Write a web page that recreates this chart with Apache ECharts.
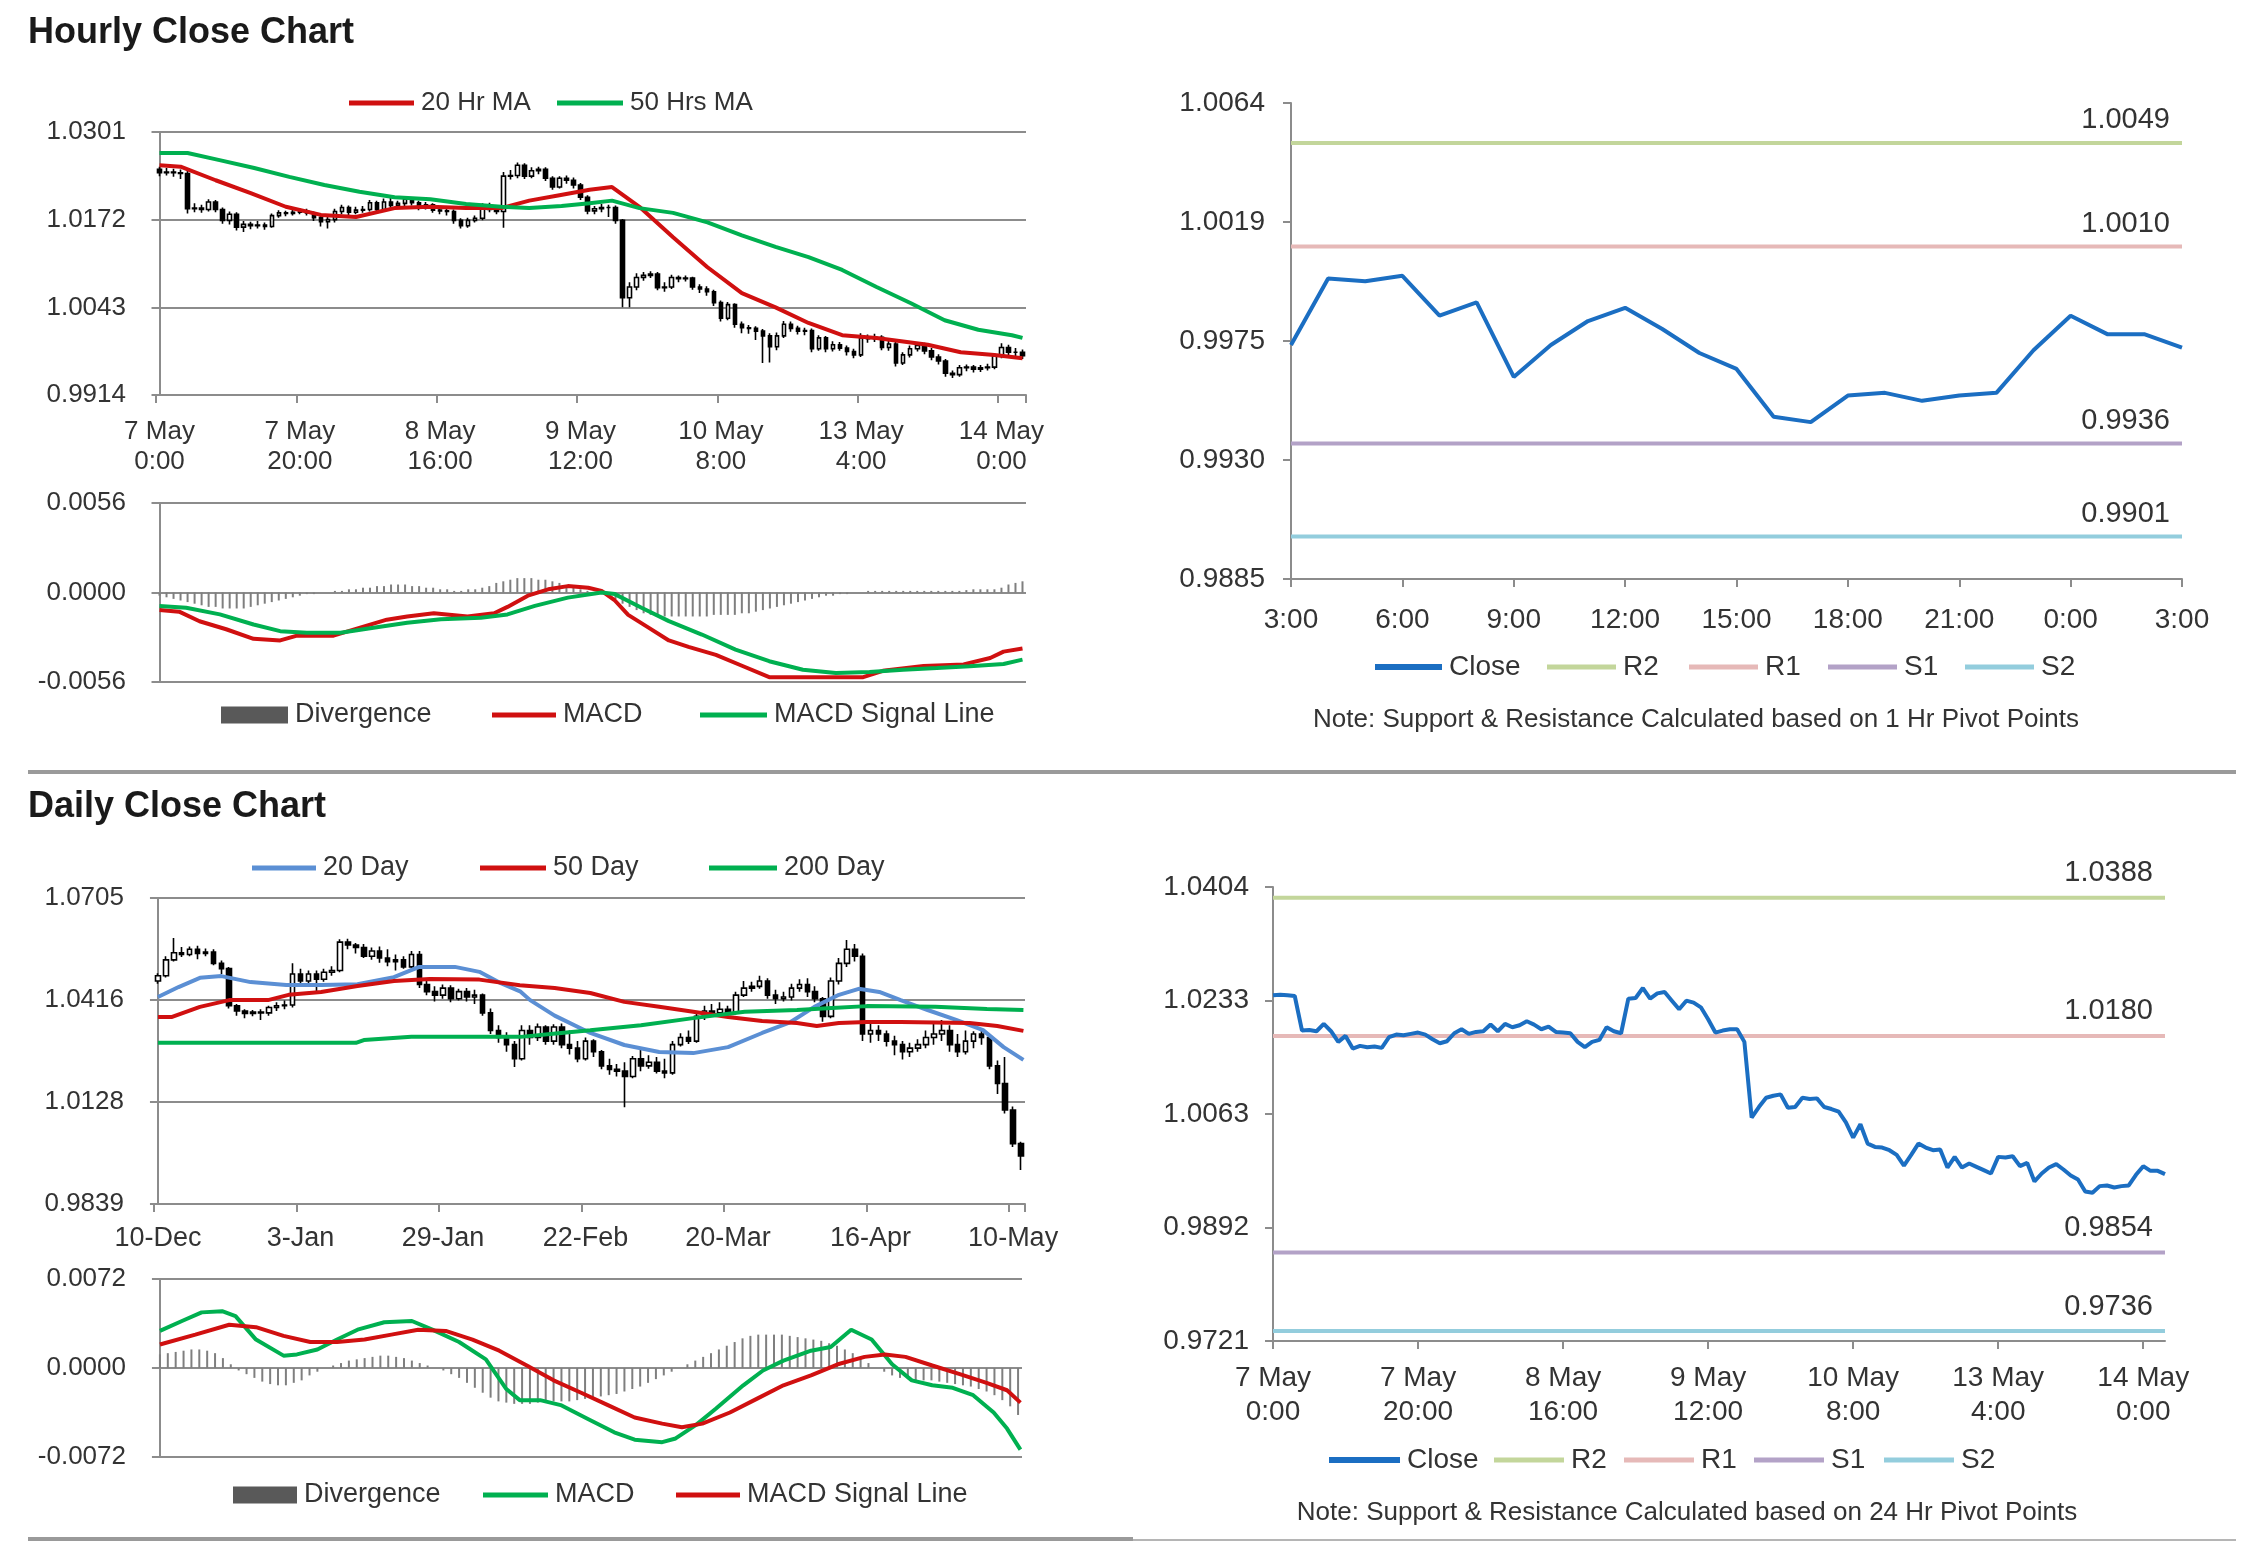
<!DOCTYPE html>
<html><head><meta charset="utf-8">
<script src="https://cdn.jsdelivr.net/npm/echarts@6/dist/echarts.min.js"></script>
<style>html,body{margin:0;padding:0;background:#fff}#c{width:2241px;height:1543px}</style>
</head><body><div id="c"></div>
<script>
// ================= DATA =================
// Hourly: 7 May 0:00 .. 14 May 3:00 (124 hourly bars)
const hourTickLabels = ['7 May\n0:00','7 May\n20:00','8 May\n16:00','9 May\n12:00','10 May\n8:00','13 May\n4:00','14 May\n0:00'];
const hourOpen = [1.0246,1.0241,1.0242,1.0241,1.0240,1.0188,1.0189,1.0187,1.0198,1.0187,
 1.0171,1.0180,1.0161,1.0165,1.0163,1.0164,1.0162,1.0178,1.0182,1.0181,
 1.0183,1.0185,1.0182,1.0175,1.0169,1.0172,1.0184,1.0190,1.0183,1.0186,
 1.0187,1.0197,1.0187,1.0198,1.0193,1.0196,1.0202,1.0197,1.0190,1.0194,
 1.0186,1.0185,1.0184,1.0171,1.0163,1.0171,1.0174,1.0193,1.0187,1.0184,
 1.0236,1.0237,1.0252,1.0236,1.0244,1.0246,1.0233,1.0220,1.0233,1.0230,
 1.0223,1.0205,1.0185,1.0188,1.0190,1.0190,1.0171,1.0057,1.0073,1.0087,
 1.0090,1.0092,1.0072,1.0073,1.0087,1.0085,1.0086,1.0073,1.0070,1.0066,
 1.0050,1.0027,1.0047,1.0018,1.0013,1.0012,1.0008,1.0001,0.9985,1.0001,
 1.0018,1.0012,1.0008,1.0009,0.9982,0.9998,0.9982,0.9988,0.9983,0.9978,
 0.9973,0.9998,0.9997,0.9999,0.9984,0.9989,0.9961,0.9973,0.9982,0.9987,
 0.9979,0.9970,0.9964,0.9946,0.9944,0.9954,0.9955,0.9952,0.9954,0.9955,
 0.9971,0.9984,0.9977,0.9977];
const hourClose = [1.0241,1.0242,1.0241,1.0240,1.0188,1.0189,1.0187,1.0198,1.0187,1.0171,
 1.0180,1.0161,1.0165,1.0163,1.0164,1.0162,1.0178,1.0182,1.0181,1.0183,
 1.0185,1.0182,1.0175,1.0169,1.0172,1.0184,1.0190,1.0183,1.0186,1.0187,
 1.0197,1.0187,1.0198,1.0193,1.0196,1.0202,1.0197,1.0190,1.0194,1.0186,
 1.0185,1.0184,1.0171,1.0163,1.0171,1.0174,1.0193,1.0187,1.0184,1.0236,
 1.0237,1.0252,1.0236,1.0244,1.0246,1.0233,1.0220,1.0233,1.0230,1.0223,
 1.0205,1.0185,1.0188,1.0190,1.0190,1.0171,1.0057,1.0073,1.0087,1.0090,
 1.0092,1.0072,1.0073,1.0087,1.0085,1.0086,1.0073,1.0070,1.0066,1.0050,
 1.0027,1.0047,1.0018,1.0013,1.0012,1.0008,1.0001,0.9985,1.0001,1.0018,
 1.0012,1.0008,1.0009,0.9982,0.9998,0.9982,0.9988,0.9983,0.9978,0.9973,
 0.9998,0.9997,0.9999,0.9984,0.9989,0.9961,0.9973,0.9982,0.9987,0.9979,
 0.9970,0.9964,0.9946,0.9944,0.9954,0.9955,0.9952,0.9954,0.9955,0.9971,
 0.9984,0.9977,0.9977,0.9972];
const hourLow = [1.0236,1.0237,1.0235,1.0232,1.0181,1.0183,1.0182,1.0184,1.0183,1.0166,
 1.0165,1.0156,1.0154,1.0158,1.0159,1.0157,1.0160,1.0175,1.0177,1.0178,
 1.0180,1.0178,1.0170,1.0162,1.0159,1.0168,1.0180,1.0179,1.0180,1.0182,
 1.0184,1.0183,1.0185,1.0189,1.0190,1.0192,1.0193,1.0186,1.0187,1.0182,
 1.0180,1.0178,1.0166,1.0159,1.0160,1.0168,1.0171,1.0183,1.0180,1.0160,
 1.0231,1.0233,1.0232,1.0233,1.0239,1.0229,1.0216,1.0218,1.0225,1.0218,
 1.0201,1.0180,1.0180,1.0183,1.0176,1.0166,1.0043,1.0043,1.0068,1.0082,
 1.0086,1.0068,1.0066,1.0070,1.0080,1.0081,1.0069,1.0064,1.0060,1.0045,
 1.0022,1.0024,1.0013,1.0005,1.0004,0.9995,0.9961,0.9962,0.9980,0.9998,
 1.0007,1.0003,1.0002,0.9977,0.9979,0.9977,0.9978,0.9979,0.9972,0.9968,
 0.9970,0.9991,0.9992,0.9980,0.9979,0.9956,0.9958,0.9969,0.9978,0.9974,
 0.9965,0.9959,0.9941,0.9939,0.9941,0.9949,0.9947,0.9948,0.9950,0.9952,
 0.9968,0.9972,0.9971,0.9967];
const hourHigh = [1.0250,1.0248,1.0247,1.0246,1.0244,1.0196,1.0194,1.0202,1.0201,1.0190,
 1.0184,1.0183,1.0170,1.0169,1.0170,1.0168,1.0181,1.0186,1.0185,1.0187,
 1.0189,1.0188,1.0184,1.0178,1.0176,1.0188,1.0194,1.0193,1.0191,1.0192,
 1.0201,1.0200,1.0203,1.0208,1.0200,1.0205,1.0204,1.0200,1.0198,1.0196,
 1.0190,1.0189,1.0187,1.0174,1.0175,1.0178,1.0196,1.0197,1.0190,1.0242,
 1.0245,1.0256,1.0255,1.0249,1.0250,1.0249,1.0236,1.0236,1.0237,1.0234,
 1.0226,1.0208,1.0192,1.0195,1.0194,1.0193,1.0173,1.0080,1.0093,1.0095,
 1.0096,1.0095,1.0080,1.0091,1.0090,1.0090,1.0088,1.0077,1.0074,1.0069,
 1.0053,1.0051,1.0049,1.0022,1.0017,1.0015,1.0011,1.0005,1.0006,1.0023,
 1.0022,1.0016,1.0013,1.0012,1.0002,1.0001,0.9993,0.9992,0.9987,0.9982,
 1.0005,1.0003,1.0004,1.0002,0.9994,0.9992,0.9977,0.9987,0.9992,0.9991,
 0.9983,0.9974,0.9967,0.9950,0.9958,0.9959,0.9958,0.9958,0.9960,0.9975,
 0.9990,0.9988,0.9983,0.9981];
// moving averages: [bar index, value]
const hourMA20 = [[0,1.0252],[3,1.0250],[8,1.0230],[13,1.0211],[18,1.0191],[23,1.0179],[28,1.0176],[33.5,1.0189],[38.6,1.0191],[43.7,1.0189],[48.7,1.0189],[52.7,1.0200],[57,1.0208],[61.3,1.0216],[64.5,1.0220],[68.4,1.0191],[73.2,1.0146],[78.1,1.0102],[83,1.0064],[87.8,1.0043],[92.5,1.0020],[97.3,1.0002],[102.2,0.9998],[109.5,0.9988],[114.2,0.9977],[119,0.9973],[123,0.9968]];
const hourMA50 = [[0,1.0270],[4,1.0270],[8.4,1.0260],[13.5,1.0248],[18.5,1.0235],[23.5,1.0223],[28.5,1.0213],[33.5,1.0205],[38.6,1.0202],[43.7,1.0195],[48.7,1.0191],[52.7,1.0189],[57.3,1.0192],[61.3,1.0196],[64.5,1.0200],[68.4,1.0189],[73.2,1.0182],[78.1,1.0168],[83,1.0149],[87.8,1.0132],[92.5,1.0117],[97.3,1.0098],[102.2,1.0073],[107.1,1.0049],[111.9,1.0024],[116.7,1.0010],[121.5,1.0002],[123,0.9998]];
const hourMACD = [[0,-0.0011],[2.8,-0.0012],[5.7,-0.0018],[9.5,-0.0023],[13.4,-0.0029],[17.2,-0.0030],[19.6,-0.0027],[24.8,-0.0027],[28.6,-0.0022],[32.4,-0.0017],[35.3,-0.0015],[39.1,-0.0013],[43.9,-0.0015],[47.7,-0.0013],[49.6,-0.0009],[52.5,-0.0002],[55.4,0.0002],[58.2,0.0004],[61.1,0.0003],[63,0.0001],[64.9,-0.0005],[66.8,-0.0014],[69.7,-0.0022],[72.6,-0.0030],[75.4,-0.0034],[79.3,-0.0039],[83.1,-0.0046],[86.9,-0.0053],[91.7,-0.0053],[96.4,-0.0053],[100.3,-0.0053],[103.1,-0.0049],[108.9,-0.0046],[114.6,-0.0045],[118.4,-0.0041],[120.3,-0.0037],[123,-0.0035]];
const hourSignal = [[0,-0.00084],[3.8,-0.00095],[8.6,-0.00137],[13.4,-0.0020],[17.2,-0.00242],[21,-0.00252],[25.8,-0.00252],[30.5,-0.0022],[35.3,-0.00189],[40.1,-0.00168],[45.8,-0.00158],[49.6,-0.00137],[53.5,-0.00084],[58.2,-0.00032],[63,0],[64.9,-0.0001],[68.7,-0.00095],[72.6,-0.00179],[77.3,-0.00263],[82.1,-0.00357],[86.9,-0.0043],[91.7,-0.00483],[96.4,-0.00504],[101.2,-0.00498],[106,-0.00483],[110.8,-0.00473],[115.5,-0.00462],[120.3,-0.00447],[123,-0.0042]];
const hourDivergence = [-0.0002,-0.0003,-0.0004,-0.0005,-0.0006,-0.0007,-0.0008,-0.0009,-0.0009,
 -0.0010,-0.0010,-0.0010,-0.0010,-0.0009,-0.0008,-0.0007,-0.0006,
 -0.0005,-0.0004,-0.0003,-0.0002,-0.0001,-0.0001,0,0,
 0.0001,0.0001,0.0002,0.0002,0.0003,0.0003,0.0004,
 0.0004,0.0005,0.0005,0.0005,0.0004,0.0004,0.0003,
 0.0003,0.0002,0.0002,0.0001,0.0001,0.0002,0.0002,
 0.0003,0.0004,0.0006,0.0007,0.0008,0.0009,0.0009,
 0.0009,0.0008,0.0008,0.0007,0.0006,0.0004,0.0003,
 0.0002,0.0001,0,-0.0001,-0.0003,
 -0.0004,-0.0007,-0.0009,-0.0011,-0.0013,-0.0014,-0.0015,-0.0015,-0.0015,-0.0015,-0.0015,-0.0015,-0.0015,-0.0015,-0.0014,-0.0014,-0.0014,-0.0014,-0.0013,-0.0013,-0.0012,-0.0011,-0.0010,-0.0009,-0.0008,-0.0007,-0.0006,-0.0005,-0.0004,-0.0003,-0.0002,-0.0002,-0.0001,-0.0001,0,0,
 0.0001,0.0001,0.0001,0.0001,0.0001,0.0001,0.0001,0.0001,0.0001,0.0001,0.0001,0.0001,0.0001,0.0001,0.00015,0.0002,0.0002,0.0002,0.0002,0.0003,0.0005,0.0006,0.0007];
const hourPriceTicks = [0.9914, 1.0043, 1.0172, 1.0301];
const hourMacdTicks = [-0.0056, 0, 0.0056];

// 1 Hr pivot chart: 13 May 3:00 .. 14 May 3:00
const pivotHourLabels = ['3:00','6:00','9:00','12:00','15:00','18:00','21:00','0:00','3:00'];
const pivotHourClose = [0.9973,0.9998,0.9997,0.9999,0.9984,0.9989,0.9961,0.9973,0.9982,0.9987,0.9979,0.9970,0.9964,0.9946,0.9944,0.9954,0.9955,0.9952,0.9954,0.9955,0.9971,0.9984,0.9977,0.9977,0.9972];
const pivotNames = ['R2','R1','S1','S2'];
const pivotHourLevels = [1.0049, 1.0010, 0.9936, 0.9901];
const pivotHourTicks = [0.9885, 0.9930, 0.9975, 1.0019, 1.0064];

// 24 Hr pivot chart (hourly closes, same period as the hourly candles)
const pivotDayLevels = [1.0388, 1.0180, 0.9854, 0.9736];
const pivotDayTicks = [0.9721, 0.9892, 1.0063, 1.0233, 1.0404];

// Daily: 10-Dec .. 13-May (110 bars)
const dayTickLabels = ['10-Dec','3-Jan','29-Jan','22-Feb','20-Mar','16-Apr','10-May'];
const dayOpen = [1.0470,1.0485,1.0530,1.0550,1.0545,1.0560,1.0548,1.0552,1.0520,1.0505,
 1.0400,1.0385,1.0378,1.0382,1.0380,1.0395,1.0400,1.0402,1.0490,1.0470,
 1.0490,1.0475,1.0495,1.0500,1.0580,1.0572,1.0565,1.0540,1.0555,1.0535,
 1.0525,1.0530,1.0510,1.0545,1.0460,1.0440,1.0430,1.0450,1.0420,1.0440,
 1.0425,1.0430,1.0380,1.0330,1.0310,1.0290,1.0250,1.0330,1.0310,1.0340,
 1.0300,1.0340,1.0290,1.0280,1.0250,1.0300,1.0270,1.0230,1.0220,1.0215,
 1.0200,1.0250,1.0230,1.0240,1.0215,1.0210,1.0290,1.0310,1.0300,1.0370,
 1.0385,1.0380,1.0390,1.0380,1.0430,1.0450,1.0455,1.0470,1.0430,1.0420,
 1.0425,1.0450,1.0460,1.0440,1.0420,1.0370,1.0470,1.0520,1.0560,1.0540,
 1.0320,1.0330,1.0320,1.0300,1.0290,1.0270,1.0280,1.0290,1.0310,1.0320,
 1.0330,1.0290,1.0270,1.0300,1.0320,1.0310,1.0230,1.0180,1.0105,1.0010];
const dayClose = [1.0485,1.0530,1.0550,1.0545,1.0560,1.0548,1.0552,1.0520,1.0505,1.0400,
 1.0385,1.0378,1.0382,1.0380,1.0395,1.0400,1.0402,1.0490,1.0470,1.0490,
 1.0475,1.0495,1.0500,1.0580,1.0572,1.0565,1.0540,1.0555,1.0535,1.0525,
 1.0530,1.0510,1.0545,1.0460,1.0440,1.0430,1.0450,1.0420,1.0440,1.0425,
 1.0430,1.0380,1.0330,1.0310,1.0290,1.0250,1.0330,1.0310,1.0340,1.0300,
 1.0340,1.0290,1.0280,1.0250,1.0300,1.0270,1.0230,1.0220,1.0215,1.0200,
 1.0250,1.0230,1.0240,1.0215,1.0210,1.0290,1.0310,1.0300,1.0370,1.0385,
 1.0380,1.0390,1.0380,1.0430,1.0450,1.0455,1.0470,1.0430,1.0420,1.0425,
 1.0450,1.0460,1.0440,1.0420,1.0370,1.0470,1.0520,1.0560,1.0540,1.0320,
 1.0330,1.0320,1.0300,1.0290,1.0270,1.0280,1.0290,1.0310,1.0320,1.0330,
 1.0290,1.0270,1.0300,1.0320,1.0310,1.0230,1.0180,1.0105,1.0010,0.9975];
const dayLow = [1.0462,1.0480,1.0525,1.0538,1.0540,1.0532,1.0540,1.0515,1.0490,1.0392,
 1.0372,1.0365,1.0370,1.0360,1.0372,1.0385,1.0390,1.0395,1.0455,1.0462,
 1.0440,1.0468,1.0485,1.0495,1.0560,1.0548,1.0535,1.0530,1.0522,1.0512,
 1.0500,1.0505,1.0505,1.0450,1.0430,1.0412,1.0420,1.0410,1.0415,1.0412,
 1.0405,1.0372,1.0320,1.0295,1.0270,1.0227,1.0245,1.0290,1.0300,1.0290,
 1.0290,1.0280,1.0262,1.0240,1.0245,1.0255,1.0220,1.0205,1.0200,1.0113,
 1.0195,1.0215,1.0222,1.0208,1.0195,1.0205,1.0285,1.0292,1.0295,1.0360,
 1.0368,1.0370,1.0368,1.0375,1.0425,1.0440,1.0448,1.0420,1.0405,1.0412,
 1.0415,1.0440,1.0425,1.0410,1.0355,1.0365,1.0460,1.0510,1.0525,1.0300,
 1.0295,1.0300,1.0285,1.0260,1.0248,1.0255,1.0270,1.0280,1.0290,1.0300,
 1.0270,1.0255,1.0262,1.0280,1.0290,1.0220,1.0150,1.0095,1.0000,0.9935];
const dayHigh = [1.0492,1.0540,1.0592,1.0566,1.0568,1.0570,1.0562,1.0560,1.0528,1.0510,
 1.0405,1.0390,1.0388,1.0390,1.0400,1.0410,1.0415,1.0520,1.0505,1.0500,
 1.0500,1.0505,1.0512,1.0588,1.0590,1.0578,1.0575,1.0565,1.0568,1.0560,
 1.0545,1.0540,1.0555,1.0555,1.0470,1.0455,1.0460,1.0458,1.0448,1.0450,
 1.0445,1.0435,1.0392,1.0345,1.0325,1.0300,1.0345,1.0345,1.0350,1.0345,
 1.0348,1.0350,1.0330,1.0300,1.0310,1.0305,1.0275,1.0250,1.0235,1.0240,
 1.0258,1.0275,1.0260,1.0255,1.0250,1.0300,1.0322,1.0330,1.0385,1.0400,
 1.0405,1.0410,1.0400,1.0440,1.0470,1.0468,1.0485,1.0478,1.0445,1.0440,
 1.0462,1.0475,1.0478,1.0455,1.0425,1.0480,1.0535,1.0586,1.0575,1.0548,
 1.0360,1.0345,1.0330,1.0315,1.0300,1.0295,1.0305,1.0330,1.0350,1.0360,
 1.0345,1.0320,1.0330,1.0328,1.0330,1.0318,1.0245,1.0255,1.0115,1.0015];
const dayMA20 = [[0,1.0425],[2.6,1.0453],[5.3,1.0479],[8,1.0484],[11.7,1.0467],[16.2,1.0459],[20.6,1.0459],[25.2,1.0461],[29.8,1.0481],[33,1.0510],[37.5,1.0510],[40.6,1.0496],[43.3,1.0464],[45.8,1.0440],[47,1.0416],[50.1,1.0372],[54.6,1.0323],[58.9,1.0289],[63.3,1.0269],[67.6,1.0266],[72,1.0283],[76.3,1.0323],[79.9,1.0354],[82.9,1.0397],[86,1.0431],[88.5,1.0448],[91.1,1.0439],[93.8,1.0416],[97.2,1.0388],[100.8,1.0360],[104.2,1.0331],[106.8,1.0283],[109.3,1.0247]];
const dayMA50 = [[0,1.0368],[1.7,1.0368],[5.3,1.0397],[9,1.0416],[13.9,1.0416],[16.5,1.0431],[20.6,1.0439],[25.2,1.0456],[29.8,1.0470],[34.3,1.0476],[40.6,1.0474],[45.7,1.0458],[50.1,1.0450],[54.6,1.0436],[58.9,1.0411],[63.3,1.0397],[67.6,1.0383],[72,1.0368],[76.3,1.0357],[80.7,1.0351],[83.2,1.0343],[86,1.0351],[89.5,1.0354],[93.8,1.0354],[98.2,1.0353],[102.5,1.0351],[106,1.0343],[109.3,1.0329]];
const dayMA200 = [[0,1.0295],[25,1.0295],[26,1.0303],[32,1.0312],[41,1.0312],[45.8,1.0312],[50.9,1.0323],[54.6,1.0331],[61,1.0345],[67.6,1.0365],[74.1,1.0383],[80.7,1.0388],[85.1,1.0394],[89.5,1.0399],[98.2,1.0397],[104.7,1.0391],[109.3,1.0388]];
const dayMACD = [[0,0.0030],[2.8,0.0038],[5.3,0.0045],[7.9,0.0046],[9.6,0.0042],[12.2,0.0023],[15.7,0.0010],[17.4,0.0011],[20,0.0015],[22.5,0.0023],[25.1,0.0031],[28.5,0.0037],[32,0.0038],[34.6,0.0031],[38,0.0021],[41.4,0.0007],[44,-0.0017],[45.7,-0.0026],[48.3,-0.0026],[50.9,-0.0030],[54.3,-0.0041],[57.7,-0.0052],[60.3,-0.0058],[63.8,-0.0060],[65.5,-0.0057],[68.1,-0.0046],[70.6,-0.0033],[74.1,-0.0014],[76.6,-0.0002],[79.2,0.0006],[82.7,0.0014],[85.2,0.0017],[87.8,0.0031],[90.4,0.0023],[93,0.0003],[95.5,-0.0010],[98.1,-0.0014],[100.7,-0.0016],[103.3,-0.0022],[105.9,-0.0036],[107.6,-0.0049],[109.3,-0.0066]];
const daySignal = [[0,0.0019],[4.5,0.0027],[8.8,0.0035],[12.2,0.0033],[15.7,0.0026],[19.1,0.0021],[22.5,0.0021],[26,0.0023],[29.4,0.0027],[32.8,0.0031],[36.3,0.0030],[39.7,0.0023],[43.1,0.0014],[46.6,0.0002],[50,-0.0010],[53.5,-0.0020],[56.9,-0.0030],[60.3,-0.0040],[63.8,-0.0045],[66.3,-0.0048],[68.9,-0.0045],[72.4,-0.0036],[75.8,-0.0025],[79.2,-0.0014],[82.7,-0.0006],[86.1,0.0003],[89.5,0.0009],[92.1,0.0011],[94.7,0.0009],[98.1,0.0002],[101.6,-0.0005],[105,-0.0012],[107.6,-0.0018],[109.3,-0.0028]];
const dayDivergence = [0.0011,0.0012,0.0013,0.0014,0.0015,0.0015,0.0014,0.0012,0.0008,
 0.0003,-0.0002,-0.0005,
 -0.0008,-0.0011,-0.0013,-0.0014,-0.0014,-0.0012,-0.0010,-0.0006,-0.0003,
 0,0.0002,0.0004,
 0.0006,0.0007,0.0008,0.0009,0.0010,0.0010,0.0009,0.0008,0.0006,0.0004,0.0002,
 0,-0.0002,-0.0005,
 -0.0008,-0.0012,-0.0016,-0.0020,-0.0024,-0.0027,-0.0028,-0.0029,-0.0029,-0.0029,-0.0028,
 -0.0028,-0.0027,-0.0027,-0.0027,-0.0026,-0.0025,-0.0024,-0.0023,-0.0022,-0.0021,-0.0019,-0.0017,-0.0015,-0.0012,
 -0.0009,-0.0006,-0.0003,0,
 0.0003,0.0006,0.0009,0.0012,0.0015,0.0018,0.0021,0.0024,0.0026,0.0027,0.0027,0.0027,0.0027,0.0026,
 0.0025,0.0024,0.0023,0.0022,0.0020,0.0018,0.0015,0.0012,
 0.0008,0.0004,0,-0.0003,
 -0.0006,-0.0008,-0.0009,-0.0010,-0.0010,-0.0010,-0.0011,-0.0012,-0.0013,-0.0014,-0.0015,-0.0017,-0.0019,-0.0022,-0.0026,-0.0031,-0.0038];
const dayPriceTicks = [0.9839, 1.0128, 1.0416, 1.0705];
const dayMacdTicks = [-0.0072, 0, 0.0072];

// ================= STYLE =================
const FONT = "'Liberation Sans', Arial, Helvetica, sans-serif";
const GC = '#8c8c8c';
const TXT = '#333333';
const RED = '#d01010', GREEN = '#00b050', BLUE20 = '#5b8fd4', CLOSE = '#1b6ec2', BAR = '#7f7f7f';
const PIVOT_COLORS = ['#c3d69b', '#e6b9b8', '#b3a2c7', '#93cddd'];

function fmt4(v) { return (v + (v >= 0 ? 1e-9 : -1e-9)).toFixed(4); }
function idx(n) { return Array.from({length: n}, (_, i) => String(i)); }
function yAx(grid, ticks, fs, margin, split) {
  const n = ticks.length;
  return {
    type: 'value', gridIndex: grid, min: ticks[0], max: ticks[n - 1],
    interval: +((ticks[n - 1] - ticks[0]) / (n - 1)).toFixed(8),
    axisLine: {show: true, lineStyle: {color: GC, width: 2}},
    axisTick: {show: true, length: 8, lineStyle: {color: GC, width: 2}},
    splitLine: {show: split, lineStyle: {color: GC, width: 2}},
    axisLabel: {formatter: fmt4, fontSize: fs, color: TXT, fontFamily: FONT, margin: margin}
  };
}
function catAx(grid, n, gap, every, labels, fs, lh, margin) {
  return {
    type: 'category', gridIndex: grid, data: idx(n), boundaryGap: gap,
    axisLine: {show: true, onZero: false, lineStyle: {color: GC, width: 2}},
    axisTick: {show: true, interval: every - 1, length: 8, lineStyle: {color: GC, width: 2}},
    splitLine: {show: false},
    axisLabel: {interval: every - 1, formatter: (v, i) => labels[Math.round(i / every)] || '',
      fontSize: fs, lineHeight: lh, color: TXT, fontFamily: FONT, margin: margin}
  };
}
function hiddenCat(grid, n) { return {type: 'category', gridIndex: grid, data: idx(n), boundaryGap: true, show: false}; }
function hiddenVal(grid, n) { return {type: 'value', gridIndex: grid, min: -0.5, max: n - 0.5, show: false}; }
function line(name, xi, yi, data, color, width) {
  return {name, type: 'line', xAxisIndex: xi, yAxisIndex: yi, data, color, symbol: 'none', showSymbol: false,
    lineStyle: {color, width: width || 4}, silent: true, z: 3};
}
function pivotLine(name, xi, yi, last, v, color, fs, off) {
  return {name, type: 'line', xAxisIndex: xi, yAxisIndex: yi, color, symbol: 'circle', symbolSize: 0, showSymbol: true,
    lineStyle: {color, width: 4}, itemStyle: {color}, silent: true, z: 2,
    data: [[0, v], {value: [last, v], label: {show: true, position: 'top', align: 'right', distance: off,
      offset: [-12, 0], formatter: () => fmt4(v), fontSize: fs, color: TXT, fontFamily: FONT}}]};
}
function candles(xi, yi, o, c, l, h, bw) {
  return {type: 'candlestick', xAxisIndex: xi, yAxisIndex: yi, barWidth: bw, silent: true,
    data: o.map((v, i) => [v, c[i], l[i], h[i]]),
    itemStyle: {color: '#ffffff', color0: '#000000', borderColor: '#000000', borderColor0: '#000000', borderWidth: 1.6}};
}
function leg(name, left, cy, w, h, fs, color) {
  return {show: true, data: [{name, itemStyle: {color}}], left, top: cy - Math.max(h, fs) / 2,
    itemWidth: w, itemHeight: h, icon: 'rect', padding: 0, itemGap: 0, selectedMode: false,
    formatter: n => n.slice(2), textStyle: {fontSize: fs, color: TXT, fontFamily: FONT, padding: [0, 0, 0, 2]}};
}

const nH = hourClose.length, nD = dayClose.length, nP = pivotHourClose.length;

const series = [
  candles(0, 0, hourOpen, hourClose, hourLow, hourHigh, 4),
  line('h:20 Hr MA', 1, 0, hourMA20, RED),
  line('h:50 Hrs MA', 1, 0, hourMA50, GREEN),
  {name: 'h:Divergence', type: 'bar', xAxisIndex: 2, yAxisIndex: 1, data: hourDivergence, barWidth: 2, color: BAR, itemStyle: {color: BAR}, silent: true},
  line('h:MACD', 3, 1, hourMACD, RED),
  line('h:MACD Signal Line', 3, 1, hourSignal, GREEN),
  line('a:Close', 4, 2, pivotHourClose, CLOSE, 4),
  candles(5, 3, dayOpen, dayClose, dayLow, dayHigh, 5),
  line('d:20 Day', 6, 3, dayMA20, BLUE20),
  line('d:50 Day', 6, 3, dayMA50, RED),
  line('d:200 Day', 6, 3, dayMA200, GREEN),
  {name: 'e:Divergence', type: 'bar', xAxisIndex: 7, yAxisIndex: 4, data: dayDivergence, barWidth: 2, color: BAR, itemStyle: {color: BAR}, silent: true},
  line('e:MACD', 8, 4, dayMACD, GREEN),
  line('e:MACD Signal Line', 8, 4, daySignal, RED),
  line('b:Close', 9, 5, hourClose, CLOSE, 4)
];
pivotNames.forEach((n, k) => series.push(pivotLine('a:' + n, 4, 2, nP - 1, pivotHourLevels[k], PIVOT_COLORS[k], 29, 8)));
pivotNames.forEach((n, k) => series.push(pivotLine('b:' + n, 9, 5, nH - 1, pivotDayLevels[k], PIVOT_COLORS[k], 29, 10)));

const legends = [
  leg('h:20 Hr MA', 349, 103, 65, 5, 26, RED),
  leg('h:50 Hrs MA', 557, 103, 66, 5, 26, GREEN),
  leg('h:Divergence', 221, 715, 67, 17, 27, '#595959'),
  leg('h:MACD', 492, 715, 64, 5, 27, RED),
  leg('h:MACD Signal Line', 700, 715, 67, 5, 27, GREEN),
  leg('a:Close', 1375, 667, 67, 6, 28, CLOSE),
  leg('d:20 Day', 252, 868, 64, 5, 27, BLUE20),
  leg('d:50 Day', 480, 868, 66, 5, 27, RED),
  leg('d:200 Day', 709, 868, 68, 5, 27, GREEN),
  leg('e:Divergence', 233, 1495, 64, 17, 27, '#595959'),
  leg('e:MACD', 483, 1495, 65, 5, 27, GREEN),
  leg('e:MACD Signal Line', 676, 1495, 64, 5, 27, RED),
  leg('b:Close', 1329, 1460, 71, 6, 28, CLOSE)
];
const aLeft = [1547, 1689, 1828, 1965], bLeft = [1494, 1624, 1754, 1884];
pivotNames.forEach((n, k) => {
  legends.push(leg('a:' + n, aLeft[k], 667, 69, 5, 28, PIVOT_COLORS[k]));
  legends.push(leg('b:' + n, bLeft[k], 1460, 70, 5, 28, PIVOT_COLORS[k]));
});

const option = {
  animation: false,
  backgroundColor: '#ffffff',
  grid: [
    {left: 156, top: 132, width: 870, height: 263, outerBoundsMode: 'none'},
    {left: 156, top: 503, width: 870, height: 179, outerBoundsMode: 'none'},
    {left: 1291, top: 103, width: 891, height: 476, outerBoundsMode: 'none'},
    {left: 154, top: 898, width: 871, height: 306, outerBoundsMode: 'none'},
    {left: 156, top: 1279, width: 866, height: 178, outerBoundsMode: 'none'},
    {left: 1273, top: 887, width: 892, height: 454, outerBoundsMode: 'none'}
  ],
  xAxis: [
    catAx(0, nH, true, 20, hourTickLabels, 26, 30, 22),
    hiddenVal(0, nH),
    hiddenCat(1, nH),
    hiddenVal(1, nH),
    catAx(2, nP, false, 3, pivotHourLabels, 28, 34, 24),
    catAx(3, nD, true, 18, dayTickLabels, 27, 30, 20),
    hiddenVal(3, nD),
    hiddenCat(4, nD),
    hiddenVal(4, nD),
    catAx(5, nH, false, 20, hourTickLabels, 28, 34, 20)
  ],
  yAxis: [
    yAx(0, hourPriceTicks, 26, 30, true),
    yAx(1, hourMacdTicks, 26, 30, true),
    yAx(2, pivotHourTicks, 28, 26, false),
    yAx(3, dayPriceTicks, 26, 30, true),
    yAx(4, dayMacdTicks, 26, 30, true),
    yAx(5, pivotDayTicks, 28, 24, false)
  ],
  legend: legends,
  series: series,
  graphic: [
    {type: 'text', x: 28, y: 33, style: {text: 'Hourly Close Chart', font: "bold 36px " + FONT, fill: '#1a1a1a', textVerticalAlign: 'middle'}},
    {type: 'text', x: 28, y: 807, style: {text: 'Daily Close Chart', font: "bold 36px " + FONT, fill: '#1a1a1a', textVerticalAlign: 'middle'}},
    {type: 'text', x: 1696, y: 720, style: {text: 'Note: Support & Resistance Calculated based on 1 Hr Pivot Points', font: "26px " + FONT, fill: TXT, textAlign: 'center', textVerticalAlign: 'middle'}},
    {type: 'text', x: 1687, y: 1513, style: {text: 'Note: Support & Resistance Calculated based on 24 Hr Pivot Points', font: "26px " + FONT, fill: TXT, textAlign: 'center', textVerticalAlign: 'middle'}},
    {type: 'line', shape: {x1: 28, y1: 772, x2: 2236, y2: 772}, style: {stroke: '#9a9a9a', lineWidth: 4}},
    {type: 'line', shape: {x1: 28, y1: 1539, x2: 1133, y2: 1539}, style: {stroke: '#9a9a9a', lineWidth: 4}},
    {type: 'line', shape: {x1: 1133, y1: 1540, x2: 2236, y2: 1540}, style: {stroke: '#b5b5b5', lineWidth: 2}}
  ]
};
const chart = echarts.init(document.getElementById('c'), null, {renderer: 'canvas', width: 2241, height: 1543});
chart.setOption(option);
</script>
</body></html>
